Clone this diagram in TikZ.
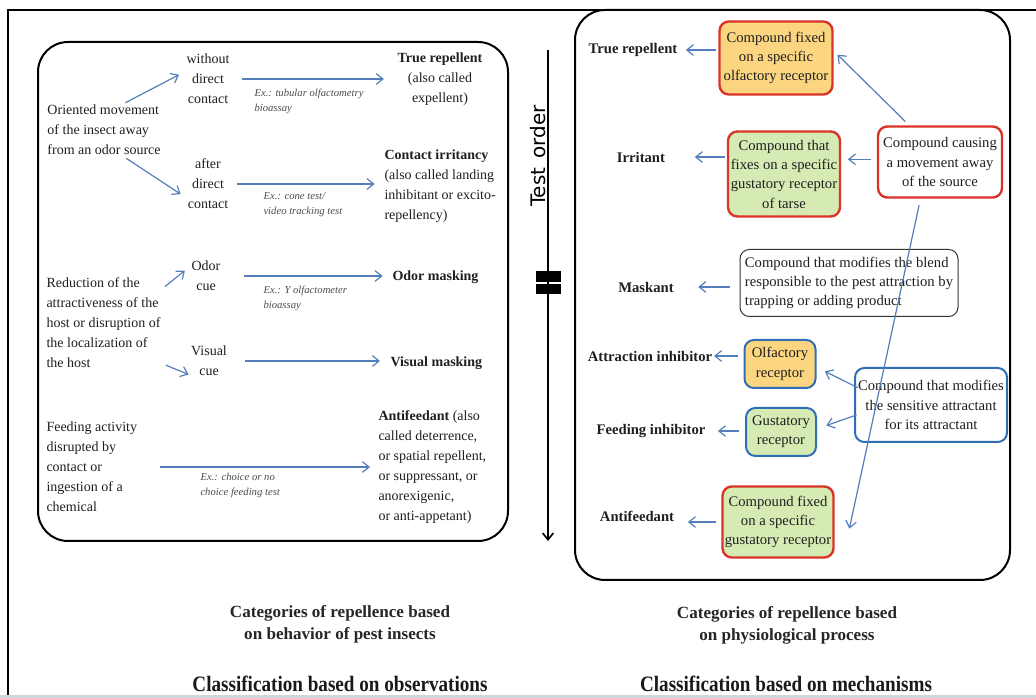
\documentclass[tikz,border=0pt]{standalone}
\usepackage{fontspec}
\setmainfont{Liberation Serif}
\newfontfamily\orderfont{DejaVu Sans}
\newfontfamily\clsfont[FakeStretch=0.87]{Liberation Serif}
\usetikzlibrary{arrows.meta,calc}

\definecolor{arrblue}{RGB}{84,126,186}
\definecolor{boxred}{RGB}{218,52,40}
\definecolor{boxblue}{RGB}{46,110,180}
\definecolor{fillorange}{RGB}{251,213,128}
\definecolor{fillgreen}{RGB}{214,235,180}
\definecolor{bandgrey}{RGB}{206,214,222}

\tikzset{every picture/.style={line width=0.75pt}}
\tikzset{
  lbl/.style={inner sep=0pt, text=black!88, font=\fontsize{10.5}{15}\selectfont},
  exlbl/.style={inner sep=0pt, text=black!70, align=left, font=\fontsize{8}{11.25}\selectfont\itshape},
  rlbl/.style={inner sep=0pt, text=black!88, font=\fontsize{11}{14.5}\selectfont\bfseries},
  mbox/.style={rounded corners=7pt, inner sep=1pt, align=center, text=black!88, font=\fontsize{11}{14.5}\selectfont},
  redbox/.style={mbox, draw=boxred, line width=1.8pt, fill=white},
  bluebox/.style={mbox, draw=boxblue, line width=1.5pt, fill=white},
  greybox/.style={mbox, draw=black!80, line width=0.75pt, fill=white, align=left, inner xsep=3.5pt},
  arr/.style={draw=arrblue, line width=0.9pt, -{Straight Barb[length=5pt,width=8pt]}},
  catcap/.style={inner sep=0pt, align=center, text=black!85, font=\fontsize{12.8}{16.5}\selectfont\bfseries},
  clscap/.style={inner sep=0pt, text=black!90, font=\clsfont\fontsize{16.5}{18}\selectfont\bfseries}
}

\begin{document}
\begin{tikzpicture}[x=0.75pt,y=0.75pt,yscale=-1,xscale=1]
	\useasboundingbox (0,0) rectangle (1036,698);

	%Shape: Frame
	\fill[bandgrey] (0,695) rectangle (1036,698);
	\draw[line width=1.5pt] (8,695) -- (8,10) -- (1036,10);
	%Shape: Rounded Rect (observations)
	\draw[line width=1.5pt, rounded corners=22.5pt] (38,42) rectangle (508,541);
	%Shape: Rounded Rect (mechanisms)
	\draw[line width=1.5pt, rounded corners=22.5pt] (575,10) rectangle (1010,580);

	%Straight Lines: test order
	\coordinate (tstart) at (548,50);
	\coordinate (tend) at (548,541);
	\draw[line width=1.2pt, -{Straight Barb[length=5pt,width=8pt]}] (tstart) -- (tend);
	\fill (536,271) rectangle (561,282);
	\fill (536,284) rectangle (561,294);
	% Text Node
	\node[rotate=90, inner sep=0pt, font=\orderfont\fontsize{15}{15}\selectfont] (torder) at (538,156) {Test\hspace{0.45em}order};

	% Text Node
	\node[lbl, align=left, anchor=west] (orient) at (47,130) {Oriented movement\\of the insect away\\from an odor source};
	% Text Node
	\node[lbl, align=center] (wout) at (208,79) {without\\direct\\contact};
	% Text Node
	\node[lbl, align=center] (after) at (208,184) {after\\direct\\contact};
	% Text Node
	\node[lbl, align=center] (truerep) at (440,79) {\textbf{True repellent}\\(also called\\expellent)};
	% Text Node
	\node[lbl, align=left, anchor=west] (contirr) at (384,186) {\textbf{Contact irritancy}\\(also called landing\\inhibitant or excito-\\repellency)};
	% Text Node
	\node[exlbl, anchor=west] (extub) at (254,101) {Ex.: tubular olfactometry\\bioassay};
	% Text Node
	\node[exlbl, anchor=west] (excone) at (263,205) {Ex.: cone test/\\video tracking test};
	% Text Node
	\node[lbl, align=left, anchor=west] (reduct) at (46,323) {Reduction of the\\attractiveness of the\\host or disruption of\\the localization of\\the host};
	% Text Node
	\node[lbl, align=center] (odorcue) at (206,276) {Odor\\cue};
	% Text Node
	\node[lbl, align=center] (viscue) at (209,361) {Visual\\cue};
	% Text Node
	\node[lbl, anchor=west] (odormask) at (392,277) {\textbf{Odor masking}};
	% Text Node
	\node[lbl, anchor=west] (vismask) at (390,363) {\textbf{Visual masking}};
	% Text Node
	\node[exlbl, anchor=west] (exy) at (263,298) {Ex.: Y olfactometer\\bioassay};
	% Text Node
	\node[lbl, align=left, anchor=west] (feed) at (46,467) {Feeding activity\\disrupted by\\contact or\\ingestion of a\\chemical};
	% Text Node
	\node[exlbl, anchor=west] (exchoice) at (200,485) {Ex.: choice or no\\choice feeding test};
	% Text Node
	\node[lbl, align=left, anchor=west] (antif) at (378,467) {\textbf{Antifeedant} (also\\called deterrence,\\or spatial repellent,\\or suppressant, or\\anorexigenic,\\or anti-appetant)};

	%Straight Lines
	\draw[arr, shorten <=3pt, shorten >=6pt] (orient.55) -- (wout.160);
	\draw[arr, shorten <=4pt, shorten >=6pt] (orient.-55) -- (after.215);
	\draw[arr, shorten <=9pt, shorten >=10pt] (wout.east) -- (wout.east -| truerep.west);
	\draw[arr, shorten <=6pt, shorten >=7pt] (after.east) -- (after.east -| contirr.west);
	\draw[arr, shorten <=4pt, shorten >=6pt] (reduct.30) -- (odorcue.145);
	\draw[arr, shorten <=4pt, shorten >=4pt] (reduct.-35) -- (viscue.225);
	\draw[arr, shorten <=17pt, shorten >=7pt] (odorcue.east) -- (odorcue.east -| odormask.west);
	\draw[arr, shorten <=13.5pt, shorten >=7.5pt] (viscue.east) -- (viscue.east -| vismask.west);
	\draw[arr, shorten <=17pt, shorten >=6pt] (feed.east) -- (feed.east -| antif.west);

	% Text Node
	\node[rlbl] (tr2) at (633,50) {True repellent};
	\node[rlbl] (irr) at (641,157) {Irritant};
	\node[rlbl] (mask) at (646,287) {Maskant};
	\node[rlbl] (attinh) at (650,356) {Attraction inhibitor};
	\node[rlbl] (feedinh) at (651,431) {Feeding inhibitor};
	\node[rlbl] (antif2) at (637,516) {Antifeedant};

	%Shape: Rounded Rect
	\node[redbox, fill=fillorange, minimum width=84.75pt, minimum height=54.75pt] (cfo) at (776,58) {Compound fixed\\on a specific\\olfactory receptor};
	\node[redbox, fill=fillgreen, minimum width=84pt, minimum height=63.75pt] (cfg) at (784,174) {Compound that\\fixes on a specific\\gustatory receptor\\of tarse};
	\node[redbox, minimum width=93pt, minimum height=53.25pt] (cms) at (940,162) {Compound causing\\a movement away\\of the source};
	\node[greybox, minimum width=163.5pt, minimum height=50.25pt] (blend) at (849,283) {Compound that modifies the blend\\responsible to the pest attraction by\\trapping or adding product};
	\node[bluebox, fill=fillorange, minimum width=53.25pt, minimum height=36pt] (olfr) at (780,364) {Olfactory\\receptor};
	\node[bluebox, fill=fillgreen, minimum width=52.5pt, minimum height=36pt] (gusr) at (781,432) {Gustatory\\receptor};
	\node[bluebox, minimum width=114pt, minimum height=55.5pt] (sens) at (931,405) {Compound that modifies\\the sensitive attractant\\for its attractant};
	\node[redbox, fill=fillgreen, minimum width=83.25pt, minimum height=53.25pt] (cfgr) at (778,522) {Compound fixed\\on a specific\\gustatory receptor};

	%Straight Lines
	\draw[arr, shorten <=1.5pt, shorten >=6pt] (cfo.west |- tr2) -- (tr2.east);
	\draw[arr, shorten <=1.5pt, shorten >=22pt] (cfg.west |- irr) -- (irr.east);
	\draw[arr, shorten <=4pt, shorten >=5pt] ([yshift=-2pt]cms.west) -- ([yshift=-2pt]cms.west -| cfg.east);
	\draw[arr, shorten <=4pt, shorten >=4pt] (cms.130) -- (cfo.7);
	\draw[arr, shorten <=5pt] (cms.-118) -- ([xshift=11pt,yshift=5pt]cfgr.east);
	\draw[arr, shorten <=7.5pt, shorten >=18pt] (blend.west |- mask) -- (mask.east);
	\draw[arr, shorten <=4.5pt, shorten >=1pt] (olfr.west |- attinh) -- (attinh.east);
	\draw[arr, shorten <=4.5pt, shorten >=9pt] (gusr.west |- feedinh) -- (feedinh.east);
	\draw[arr, shorten <=-3pt, shorten >=7pt] (sens.166) -- (olfr.-5);
	\draw[arr, shorten <=-2pt, shorten >=7.5pt] (sens.-172) -- (gusr.5);
	\draw[arr, shorten <=4pt, shorten >=10pt] (cfgr.west) -- (cfgr.west -| antif2.east);

	% Text Node
	\node[catcap] (catobs) at (340,624) {Categories of repellence based\\on behavior of pest insects};
	\node[catcap] (catmech) at (787,625) {Categories of repellence based\\on physiological process};
	\node[clscap] (clsobs) at (340,684) {Classification based on observations};
	\node[clscap] (clsmech) at (786,684) {Classification based on mechanisms};
\end{tikzpicture}
\end{document}
